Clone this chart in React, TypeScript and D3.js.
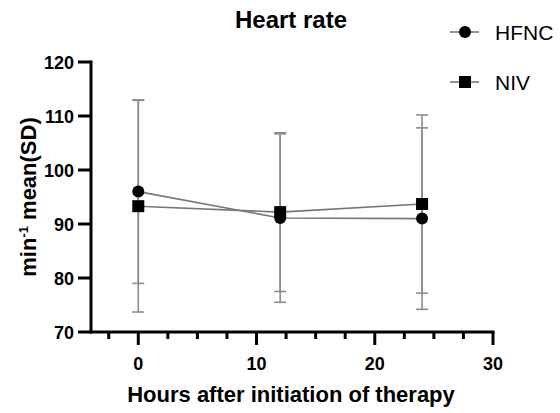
import React from "react";
import * as d3 from "d3";

const hours = [0, 12, 24];
const hfncMean = [96, 91.1, 91];
const hfncSd = [17, 15.6, 16.8];
const nivMean = [93.3, 92.2, 93.7];
const nivSd = [19.6, 14.7, 16.5];
const yTicks = [70, 80, 90, 100, 110, 120];
const xMajor = [0, 10, 20, 30];
const xMinor = [-2.5, 2.5, 5, 7.5, 12.5, 15, 17.5, 22.5, 25, 27.5];
const seriesNames = ["HFNC", "NIV"];

const W = 560, H = 413;
const FONT = "'Liberation Sans', Arial, Helvetica, sans-serif";

export default function App() {
  const x = d3.scaleLinear().domain([-4, 30]).range([91, 493]);
  const y = d3.scaleLinear().domain([70, 120]).range([332, 62]);
  const line = d3.line<number>().x((_, i) => x(hours[i])).y((d) => y(d));
  const series = [
    { name: seriesNames[0], mean: hfncMean, sd: hfncSd, shape: "circle" },
    { name: seriesNames[1], mean: nivMean, sd: nivSd, shape: "square" },
  ];
  const capW = 6;
  const r = 6;
  return (
    <svg width={W} height={H} style={{ position: "absolute", left: 0, top: 0, background: "#fff" }} fontFamily={FONT}>
      <rect width={W} height={H} fill="#fff" />
      <text x={291} y={28} textAnchor="middle" fontSize={24} fontWeight="bold">Heart rate</text>
      {series.map((s) =>
        s.mean.map((m, i) => {
          const cx = x(hours[i]);
          const hi = y(m + s.sd[i]);
          const lo = y(m - s.sd[i]);
          return (
            <g key={s.name + i} stroke="#8c8c8c" strokeWidth={1.6}>
              <line x1={cx} x2={cx} y1={hi} y2={lo} />
              <line x1={cx - capW} x2={cx + capW} y1={hi} y2={hi} />
              <line x1={cx - capW} x2={cx + capW} y1={lo} y2={lo} />
            </g>
          );
        })
      )}
      {series.map((s) => (
        <path key={s.name} d={line(s.mean) || ""} fill="none" stroke="#777" strokeWidth={1.6} />
      ))}
      {series.map((s) =>
        s.mean.map((m, i) =>
          s.shape === "circle" ? (
            <circle key={s.name + "m" + i} cx={x(hours[i])} cy={y(m)} r={r} fill="#000" />
          ) : (
            <rect key={s.name + "m" + i} x={x(hours[i]) - r} y={y(m) - r} width={2 * r} height={2 * r} fill="#000" />
          )
        )
      )}
      <line x1={x(-4)} x2={x(-4)} y1={y(120) - 1.5} y2={y(70) + 1.5} stroke="#000" strokeWidth={3} />
      {yTicks.map((t) => (
        <g key={"y" + t}>
          <line x1={x(-4) - 13} x2={x(-4)} y1={y(t)} y2={y(t)} stroke="#000" strokeWidth={3} />
          <text x={x(-4) - 17} y={y(t) + 6.5} textAnchor="end" fontSize={18} fontWeight="bold">{t}</text>
        </g>
      ))}
      <line x1={x(-4) - 1.5} x2={x(30) + 1.5} y1={y(70)} y2={y(70)} stroke="#000" strokeWidth={3} />
      {xMajor.map((t) => (
        <g key={"x" + t}>
          <line x1={x(t)} x2={x(t)} y1={y(70)} y2={y(70) + 13} stroke="#000" strokeWidth={3} />
          <text x={x(t)} y={370} textAnchor="middle" fontSize={18} fontWeight="bold">{t}</text>
        </g>
      ))}
      {xMinor.map((t) => (
        <line key={"xm" + t} x1={x(t)} x2={x(t)} y1={y(70)} y2={y(70) + 7} stroke="#000" strokeWidth={3} />
      ))}
      <text x={291} y={402} textAnchor="middle" fontSize={22} fontWeight="bold">Hours after initiation of therapy</text>
      <text transform={`translate(36,197) rotate(-90)`} textAnchor="middle" fontSize={22} fontWeight="bold">
        min<tspan dy={-8} fontSize={13}>-1</tspan><tspan dy={8}> mean(SD)</tspan>
      </text>
      {series.map((s, i) => {
        const cy = 32 + i * 50;
        return (
          <g key={"leg" + s.name}>
            <line x1={450} x2={479} y1={cy} y2={cy} stroke="#777" strokeWidth={1.6} />
            {s.shape === "circle" ? (
              <circle cx={465} cy={cy} r={r} fill="#000" />
            ) : (
              <rect x={465 - r} y={cy - r} width={2 * r} height={2 * r} fill="#000" />
            )}
            <text x={495} y={cy + 7.5} fontSize={21}>{s.name}</text>
          </g>
        );
      })}
    </svg>
  );
}
